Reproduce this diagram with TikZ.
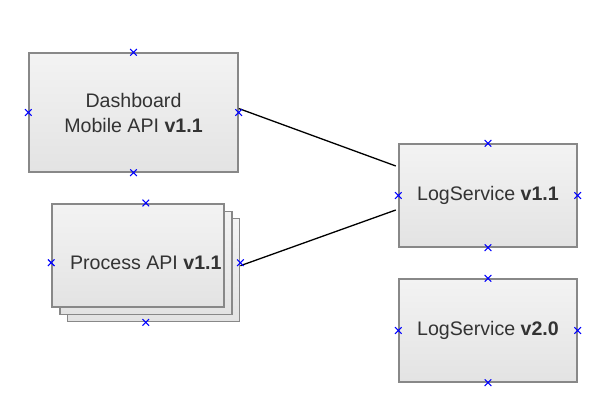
\documentclass[tikz,border=0pt]{standalone}
\usepackage{fontspec}
\setmainfont{Liberation Sans}
\usetikzlibrary{positioning, fit, shapes.misc}
\definecolor{boxtop}{HTML}{F3F3F3}
\definecolor{boxbot}{HTML}{E3E3E3}
\definecolor{boxline}{HTML}{888888}
\definecolor{boxtext}{HTML}{333333}
\newcommand*{\ver}[1]{\textbf{#1}}

\begin{document}
\begin{tikzpicture}[
        x=1pt, y=-1pt,
        box/.style={draw=boxline, line width=1.4pt, top color=boxtop, bottom color=boxbot,
          rectangle, inner sep=0pt, minimum width=178pt, minimum height=103pt},
        label font/.style={text=boxtext, font=\fontsize{19.6}{25}\selectfont, align=center},
        port/.style={cross out, draw=blue, line width=1.1pt, minimum size=5.5pt, inner sep=0pt},
        link/.style={draw=black, line width=1.3pt},
        ]
        \useasboundingbox (0,0) rectangle (611,408);

        \node[box, label font, minimum width=209pt, minimum height=119pt] (dash) at (133.5,112.5)
          {Dashboard\\Mobile API \ver{v1.1}};

        % stacked process boxes
        \node[box, minimum width=172pt] (proc3) at (153.5,270) {};
        \node[box, minimum width=172pt] (proc2) at ([shift={(-7.7,-7.3)}]proc3) {};
        \node[box, minimum width=172pt] (proc1) at ([shift={(-7.7,-7.3)}]proc2) {};
        \node[fit=(proc1)(proc3), inner sep=0pt] (proc) {};
        \node[label font] (proctext) at (proc.center) {Process API \ver{v1.1}};

        \node[box, label font] (log11) at (488,195.5) {LogService \ver{v1.1}};
        \node[box, label font] (log20) at (488,330.5) {LogService \ver{v2.0}};

        \draw[link] ([yshift=4pt]dash.east) -- ([xshift=-2.5pt,yshift=29.5pt]log11.west);
        \draw[link] ([yshift=-3pt]proc.east) -- ([xshift=-2.5pt,yshift=-14.5pt]log11.west);

        \foreach \n in {dash, proc, log11, log20}
          \foreach \a in {north, south, east, west}
            \node[port] at (\n.\a) {};
      \end{tikzpicture}
\end{document}
